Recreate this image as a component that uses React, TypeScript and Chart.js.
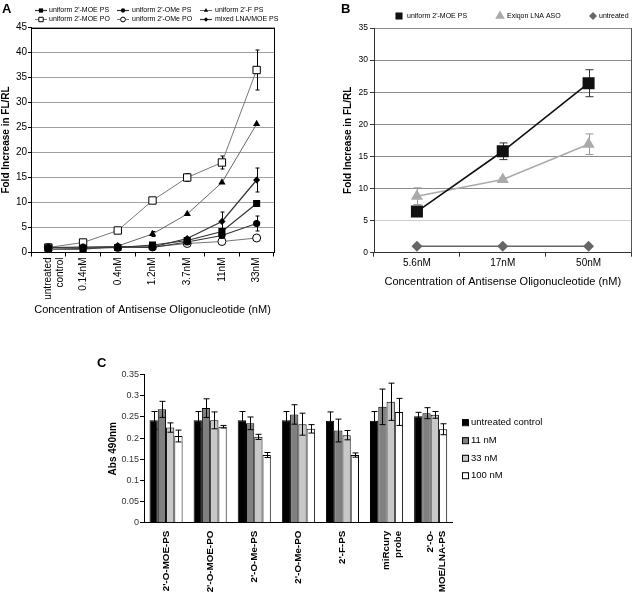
import React, { useEffect, useRef } from "react";
import { Chart, registerables } from "chart.js";

Chart.register(...registerables);

const FONT = "'Liberation Sans', Arial, Helvetica, sans-serif";
Chart.defaults.font.family = FONT;
Chart.defaults.color = "#000";

// ---------------- Panel A data ----------------
const aCategories: (string | string[])[] = [["untreated", "control"], "0.14nM", "0.4nM", "1.2nM", "3.7nM", "11nM", "33nM"];
const aSeriesLabels = ["uniform 2'-MOE PS", "uniform 2'-OMe PS", "uniform 2'-F PS", "uniform 2'-MOE PO", "uniform 2'-OMe PO", "mixed LNA/MOE PS"];
const aMoePS = [0.9, 0.8, 1.0, 1.5, 2.4, 4.2, 9.8];
const aOmePS = [1.0, 1.1, 1.1, 1.0, 2.1, 3.4, 5.8];
const aFPS = [0.6, 0.6, 1.3, 3.7, 7.7, 14.0, 25.7];
const aMoePO = [1.0, 2.0, 4.4, 10.4, 15.0, 18.0, 36.5];
const aOmePO = [1.0, 1.0, 1.0, 1.1, 1.8, 2.2, 2.9];
const aMixed = [1.0, 1.0, 1.2, 1.1, 2.8, 6.2, 14.5];
const aMoePSErr = [0, 0, 0, 0, 0, 0.5, 0.6];
const aOmePSErr = [0, 0, 0, 0, 0, 0, 1.5];
const aFPSErr = [0, 0, 0, 0.5, 0, 0, 0];
const aMoePOErr = [0, 0, 0, 0.5, 0.8, 1.3, 4.0];
const aMixedErr = [0, 0, 0, 0, 0, 1.9, 2.4];
const aYMax = 45;
const aYStep = 5;
const aXTitle = "Concentration of Antisense Oligonucleotide (nM)";
const aYTitle = "Fold Increase in FL/RL";

// ---------------- Panel B data ----------------
const bCategories = ["5.6nM", "17nM", "50nM"];
const bSeriesLabels = ["uniform 2'-MOE PS", "Exiqon LNA ASO", "untreated"];
const bMoePS = [6.4, 15.8, 26.4];
const bMoePSErr = [0.4, 1.3, 2.1];
const bLNA = [8.8, 11.4, 16.9];
const bLNAErr = [1.3, 0.3, 1.6];
const bUntreated = [1, 1, 1];
const bYMax = 35;
const bYStep = 5;

// ---------------- Panel C data ----------------
const cCategories: (string | string[])[] = ["2'-O-MOE-PS", "2'-O-MOE-PO", "2'-O-Me-PS", "2'-O-Me-PO", "2'-F-PS", ["miRcury", "probe"], ["2'-O-", "MOE/LNA-PS"]];
const cSeriesLabels = ["untreated control", "11 nM", "33 nM", "100 nM"];
const cCtrl = [0.242, 0.242, 0.242, 0.242, 0.241, 0.241, 0.252];
const c11 = [0.268, 0.271, 0.235, 0.256, 0.218, 0.274, 0.259];
const c33 = [0.225, 0.242, 0.203, 0.233, 0.207, 0.286, 0.255];
const c100 = [0.205, 0.227, 0.160, 0.222, 0.160, 0.262, 0.221];
const cCtrlErr = [0.021, 0.021, 0.021, 0.021, 0.021, 0.022, 0.009];
const c11Err = [0.019, 0.022, 0.015, 0.023, 0.027, 0.042, 0.013];
const c33Err = [0.011, 0.020, 0.006, 0.026, 0.011, 0.044, 0.008];
const c100Err = [0.014, 0.003, 0.006, 0.010, 0.005, 0.032, 0.013];
const cYMax = 0.35;
const cYStep = 0.05;

// ---------------- helpers ----------------
function drawMarker(ctx: CanvasRenderingContext2D, style: string, x: number, y: number, r: number, fill: string, stroke: string, lw: number) {
  ctx.save();
  ctx.beginPath();
  if (style === "rect") {
    const s = r * Math.SQRT1_2;
    ctx.rect(x - s, y - s, 2 * s, 2 * s);
  } else if (style === "circle") {
    ctx.arc(x, y, r, 0, Math.PI * 2);
  } else if (style === "triangle") {
    ctx.moveTo(x, y - r);
    ctx.lineTo(x + r * 0.866, y + r / 2);
    ctx.lineTo(x - r * 0.866, y + r / 2);
    ctx.closePath();
  } else if (style === "rectRot") {
    ctx.moveTo(x - r, y);
    ctx.lineTo(x, y - r);
    ctx.lineTo(x + r, y);
    ctx.lineTo(x, y + r);
    ctx.closePath();
  }
  ctx.fillStyle = fill;
  ctx.fill();
  if (lw > 0) {
    ctx.lineWidth = lw;
    ctx.strokeStyle = stroke;
    ctx.stroke();
  }
  ctx.restore();
}

function errorBars(capHalf: number, before: boolean) {
  const draw = (chart: any) => {
    const ctx: CanvasRenderingContext2D = chart.ctx;
    const ys = chart.scales.y;
    chart.data.datasets.forEach((ds: any, i: number) => {
      const errs: number[] | undefined = ds.errors;
      if (!errs) return;
      const meta = chart.getDatasetMeta(i);
      meta.data.forEach((el: any, j: number) => {
        const e = errs[j];
        if (!e) return;
        const v = ds.data[j];
        const top = ys.getPixelForValue(v + e);
        const bot = ys.getPixelForValue(v - e);
        const x = Math.round(el.x) + 0.5;
        ctx.save();
        ctx.strokeStyle = ds.errorColor || "#000";
        ctx.lineWidth = ds.errorWidth || 1;
        ctx.beginPath();
        ctx.moveTo(x, top);
        ctx.lineTo(x, bot);
        ctx.moveTo(x - capHalf, top);
        ctx.lineTo(x + capHalf, top);
        ctx.moveTo(x - capHalf, bot);
        ctx.lineTo(x + capHalf, bot);
        ctx.stroke();
        ctx.restore();
      });
    });
  };
  return before ? { id: "errbarsBefore", beforeDatasetsDraw: draw } : { id: "errbarsAfter", afterDatasetsDraw: draw };
}

// ---------------- Panel A config ----------------
function configA(): any {
  const lineDs = (label: string, data: number[], errors: number[] | null, style: string, r: number, fill: string, lineColor: string, lw: number) => ({
    label,
    data,
    errors,
    pointStyle: style,
    pointRadius: r,
    pointBackgroundColor: fill,
    pointBorderColor: "#000",
    pointBorderWidth: fill === "#fff" ? 1 : 0,
    borderColor: lineColor,
    borderWidth: lw,
    backgroundColor: fill,
    tension: 0,
    fill: false,
  });
  const datasets = [
    lineDs(aSeriesLabels[0], aMoePS, aMoePSErr, "rect", 5, "#000", "#333", 1.2),
    lineDs(aSeriesLabels[1], aOmePS, aOmePSErr, "circle", 3.6, "#000", "#333", 1.2),
    lineDs(aSeriesLabels[2], aFPS, aFPSErr, "triangle", 4.2, "#000", "#666", 1),
    lineDs(aSeriesLabels[3], aMoePO, aMoePOErr, "rect", 5.2, "#fff", "#777", 1),
    lineDs(aSeriesLabels[4], aOmePO, null, "circle", 4, "#fff", "#777", 1),
    lineDs(aSeriesLabels[5], aMixed, aMixedErr, "rectRot", 3.6, "#000", "#333", 1.2),
  ];
  const legendPlugin = {
    id: "legendA",
    afterDraw(chart: any) {
      const ctx: CanvasRenderingContext2D = chart.ctx;
      const colX = [35, 117, 200];
      const textX = [49, 132, 215];
      const rowY = [10.5, 19.5];
      chart.data.datasets.forEach((ds: any, i: number) => {
        const c = i % 3;
        const rw = Math.floor(i / 3);
        const y = rowY[rw];
        ctx.save();
        ctx.strokeStyle = ds.borderColor;
        ctx.lineWidth = ds.borderWidth;
        ctx.beginPath();
        ctx.moveTo(colX[c], y);
        ctx.lineTo(colX[c] + 12, y);
        ctx.stroke();
        drawMarker(ctx, ds.pointStyle, colX[c] + 6, y, ds.pointRadius * 0.6, ds.pointBackgroundColor, "#000", ds.pointBorderWidth);
        ctx.fillStyle = "#000";
        ctx.font = `7px ${FONT}`;
        ctx.textBaseline = "middle";
        ctx.textAlign = "left";
        ctx.fillText(ds.label, textX[c], y);
        ctx.restore();
      });
    },
  };
  const framePlugin = {
    id: "frameA",
    afterDatasetsDraw(chart: any) {
      const { ctx, chartArea: a } = chart;
      ctx.save();
      ctx.strokeStyle = "#000";
      ctx.lineWidth = 1;
      ctx.beginPath();
      ctx.moveTo(a.left, Math.round(a.top) + 0.5);
      ctx.lineTo(a.right, Math.round(a.top) + 0.5);
      ctx.moveTo(Math.round(a.right) + 0.5, a.top);
      ctx.lineTo(Math.round(a.right) + 0.5, a.bottom);
      ctx.stroke();
      ctx.restore();
    },
  };
  return {
    type: "line",
    data: { labels: aCategories, datasets },
    options: {
      animation: false,
      responsive: false,
      events: [],
      layout: { padding: { left: 0, right: 46, top: 27.5, bottom: 0 } },
      plugins: { legend: { display: false }, tooltip: { enabled: false } },
      scales: {
        x: {
          type: "category",
          offset: true,
          afterFit: (s: any) => { s.height = 72.5; },
          grid: { display: true, drawOnChartArea: false, drawTicks: true, tickLength: 4, offset: true, color: "#000" },
          border: { display: true, color: "#000", width: 1 },
          ticks: { minRotation: 90, maxRotation: 90, autoSkip: false, padding: 1, font: { size: 10 }, color: "#000" },
          title: { display: true, text: aXTitle, font: { size: 11 }, color: "#000", padding: { top: 0, bottom: 8.4 } },
        },
        y: {
          min: 0,
          max: aYMax,
          afterFit: (s: any) => { s.width = 31; },
          grid: { color: "#a0a0a0", tickColor: "#000", tickLength: 3, drawTicks: true },
          border: { display: true, color: "#000", width: 1 },
          ticks: { stepSize: aYStep, padding: 1, font: { size: 10 }, color: "#000" },
          title: { display: true, text: aYTitle, font: { size: 10, weight: "bold" }, color: "#000", padding: { top: 0, bottom: 0 } },
        },
      },
    },
    plugins: [errorBars(2, true), framePlugin, legendPlugin],
  };
}

// ---------------- Panel B config ----------------
function configB(): any {
  const datasets = [
    {
      label: bSeriesLabels[0], data: bMoePS, errors: bMoePSErr, errorColor: "#333",
      pointStyle: "rect", pointRadius: 8.5, pointBackgroundColor: "#111", pointBorderColor: "#111", pointBorderWidth: 0,
      borderColor: "#111", borderWidth: 1.6, backgroundColor: "#111", tension: 0,
    },
    {
      label: bSeriesLabels[1], data: bLNA, errors: bLNAErr, errorColor: "#999",
      pointStyle: "triangle", pointRadius: 7, pointBackgroundColor: "#aaa", pointBorderColor: "#aaa", pointBorderWidth: 0,
      borderColor: "#aaa", borderWidth: 1.6, backgroundColor: "#aaa", tension: 0,
    },
    {
      label: bSeriesLabels[2], data: bUntreated, errors: null,
      pointStyle: "rectRot", pointRadius: 5.5, pointBackgroundColor: "#666", pointBorderColor: "#666", pointBorderWidth: 0,
      borderColor: "#666", borderWidth: 1.6, backgroundColor: "#666", tension: 0,
    },
  ];
  const legendPlugin = {
    id: "legendB",
    afterDraw(chart: any) {
      const ctx: CanvasRenderingContext2D = chart.ctx;
      const mx = [79, 180, 273];
      const tx = [87, 187, 279];
      const rr = [5, 5.5, 4];
      const y = 16;
      chart.data.datasets.forEach((ds: any, i: number) => {
        drawMarker(ctx, ds.pointStyle, mx[i], y, rr[i], ds.pointBackgroundColor, "#000", 0);
        ctx.save();
        ctx.fillStyle = "#000";
        ctx.font = `7px ${FONT}`;
        ctx.textBaseline = "middle";
        ctx.textAlign = "left";
        ctx.fillText(ds.label, tx[i], y);
        ctx.restore();
      });
    },
  };
  const framePlugin = {
    id: "frameB",
    afterDatasetsDraw(chart: any) {
      const { ctx, chartArea: a } = chart;
      ctx.save();
      ctx.strokeStyle = "#555";
      ctx.lineWidth = 1;
      ctx.beginPath();
      ctx.moveTo(Math.round(a.right) - 0.5, a.top);
      ctx.lineTo(Math.round(a.right) - 0.5, a.bottom);
      ctx.stroke();
      ctx.restore();
    },
  };
  return {
    type: "line",
    data: { labels: bCategories, datasets },
    options: {
      animation: false,
      responsive: false,
      events: [],
      layout: { padding: { left: 0, right: 1.3, top: 28, bottom: 0 } },
      plugins: { legend: { display: false }, tooltip: { enabled: false } },
      scales: {
        x: {
          type: "category",
          offset: true,
          afterFit: (s: any) => { s.height = 47.3; },
          grid: { display: true, drawOnChartArea: false, drawTicks: true, tickLength: 4, offset: true, color: "#333" },
          border: { display: true, color: "#333", width: 1 },
          ticks: { padding: 1, font: { size: 10 }, color: "#000" },
          title: { display: true, text: aXTitle, font: { size: 11 }, color: "#000", padding: { top: 0, bottom: 11.4 } },
        },
        y: {
          min: 0,
          max: bYMax,
          afterFit: (s: any) => { s.width = 54; },
          grid: {
            color: (c: any) => (c.tick && c.tick.value === 5 ? "#cfcfcf" : "#8c8c8c"),
            tickColor: "#333", tickLength: 4, drawTicks: true,
          },
          border: { display: true, color: "#333", width: 1 },
          ticks: { stepSize: bYStep, padding: 2, font: { size: 8.5 }, color: "#000" },
          title: { display: true, text: aYTitle, font: { size: 10, weight: "bold" }, color: "#000", padding: { top: 22, bottom: 0 } },
        },
      },
    },
    plugins: [errorBars(4, true), framePlugin, legendPlugin],
  };
}

// ---------------- Panel C config ----------------
function configC(): any {
  const fills = ["#000", "#808080", "#c8c8c8", "#fff"];
  const vals = [cCtrl, c11, c33, c100];
  const errs = [cCtrlErr, c11Err, c33Err, c100Err];
  const datasets = cSeriesLabels.map((label, i) => ({
    label,
    data: vals[i],
    errors: errs[i],
    backgroundColor: fills[i],
    borderColor: "#000",
    borderWidth: 1,
    barPercentage: 1,
    categoryPercentage: 0.75,
  }));
  const legendPlugin = {
    id: "legendC",
    afterDraw(chart: any) {
      const ctx: CanvasRenderingContext2D = chart.ctx;
      const rows = [82.7, 100.7, 118.3, 135.7];
      chart.data.datasets.forEach((ds: any, i: number) => {
        const y = rows[i];
        ctx.save();
        ctx.fillStyle = ds.backgroundColor;
        ctx.fillRect(462, y - 3.5, 6, 6);
        ctx.strokeStyle = "#000";
        ctx.lineWidth = 1;
        ctx.strokeRect(462.5, y - 3, 6, 6);
        ctx.fillStyle = "#000";
        ctx.font = `9.5px ${FONT}`;
        ctx.textBaseline = "middle";
        ctx.textAlign = "left";
        ctx.fillText(ds.label, 471, y);
        ctx.restore();
      });
    },
  };
  return {
    type: "bar",
    data: { labels: cCategories, datasets },
    options: {
      animation: false,
      responsive: false,
      events: [],
      layout: { padding: { left: 0, right: 187.3, top: 34.7, bottom: 0 } },
      plugins: { legend: { display: false }, tooltip: { enabled: false } },
      scales: {
        x: {
          type: "category",
          afterFit: (s: any) => { s.height = 71.3; },
          grid: { display: false },
          border: { display: true, color: "#000", width: 1 },
          ticks: { minRotation: 90, maxRotation: 90, autoSkip: false, padding: 0, font: { size: 9.8, weight: "bold" }, color: "#000" },
        },
        y: {
          min: 0,
          max: cYMax,
          afterFit: (s: any) => { s.width = 144; },
          grid: { display: true, drawOnChartArea: false, drawTicks: true, tickLength: 4, color: "#000" },
          border: { display: true, color: "#000", width: 1 },
          ticks: { stepSize: cYStep, padding: 1, font: { size: 9 }, color: "#333", callback: (v: any) => String(+Number(v).toFixed(2)) },
          title: { display: true, text: "Abs 490nm", font: { size: 10, weight: "bold" }, color: "#000", padding: { top: 107, bottom: 0 } },
        },
      },
    },
    plugins: [errorBars(3, false), legendPlugin],
  };
}

export default function App() {
  const aRef = useRef<HTMLCanvasElement>(null);
  const bRef = useRef<HTMLCanvasElement>(null);
  const cRef = useRef<HTMLCanvasElement>(null);

  useEffect(() => {
    const charts = [
      new Chart(aRef.current as HTMLCanvasElement, configA()),
      new Chart(bRef.current as HTMLCanvasElement, configB()),
      new Chart(cRef.current as HTMLCanvasElement, configC()),
    ];
    return () => charts.forEach((c) => c.destroy());
  }, []);

  const letter = (t: string, left: number, top: number) => (
    <div style={{ position: "absolute", left, top, fontSize: 13, lineHeight: "13px", fontWeight: "bold", fontFamily: FONT, color: "#000" }}>{t}</div>
  );

  return (
    <div style={{ position: "absolute", left: 0, top: 0, width: 640, height: 594, background: "#fff", overflow: "hidden" }}>
      <canvas ref={aRef} width={320} height={325} style={{ position: "absolute", left: 0, top: 0, width: 320, height: 325 }} />
      <canvas ref={bRef} width={320} height={300} style={{ position: "absolute", left: 320, top: 0, width: 320, height: 300 }} />
      <canvas ref={cRef} width={640} height={254} style={{ position: "absolute", left: 0, top: 340, width: 640, height: 254 }} />
      {letter("A", 2, 2)}
      {letter("B", 341, 2)}
      {letter("C", 97, 356)}
    </div>
  );
}
